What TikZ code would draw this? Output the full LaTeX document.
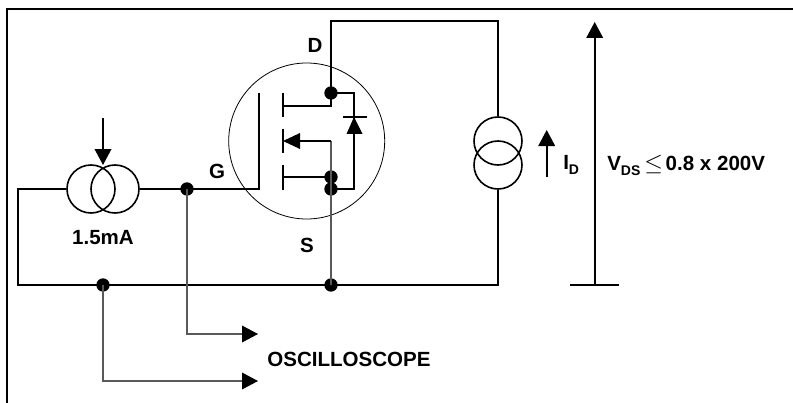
\documentclass[tikz,border=0pt]{standalone}
\usepackage{fontspec}
\setmainfont{Liberation Sans}
\usetikzlibrary{arrows.meta}
\tikzset{
  x=0.75pt,y=-0.75pt,
  wire/.style={line width=1.2pt,draw=black},
  thinwire/.style={line width=1pt,draw=black!65},
  frameline/.style={line width=1.5pt,draw=black},
  junction/.style={circle,fill=black,draw=none,inner sep=0pt,minimum size=10pt},
  coil/.style={circle,draw=black,line width=1.2pt,inner sep=0pt,minimum size=36pt},
  lbl/.style={font=\bfseries\fontsize{15.4}{17}\selectfont,inner sep=0pt,text=black},
  bigarrow/.style={-{Triangle[length=12pt,width=12.5pt,color=black,fill=black]}},
}
\newcommand{\subtxt}[1]{\raisebox{-3.5pt}{\fontsize{10.5}{12}\selectfont #1}}
\begin{document}
\begin{tikzpicture}
\useasboundingbox (0,0) rectangle (793,403);
\coordinate (fa) at (7,403);
\coordinate (fb) at (7,9);
\coordinate (fc) at (793,9);
\draw[frameline] (fa) -- (fb) -- (fc);
% MOSFET envelope
\node[circle,draw=black,line width=0.6pt,inner sep=0pt,minimum size=117pt] (env) at (306.7,141) {};
% junctions
\node[junction] (jd) at (331,93) {};
\node[junction] (js) at (331,177) {};
\node[junction] (jb) at (331,189) {};
\node[junction] (jg) at (187,189) {};
\node[junction] (jl) at (103,285) {};
\node[junction] (jr) at (331,285) {};
% current sources
\node[coil] (c1) at (91,189) {};
\node[coil] (c2) at (115,189) {};
\node[coil] (c3) at (498,141) {};
\node[coil] (c4) at (498,165) {};
% corner points
\coordinate (dt) at (331,21);
\coordinate (dr) at (498,21);
\coordinate (bl) at (18,285);
\coordinate (tl) at (18,189);
\coordinate (br) at (498,285);
\coordinate (gt) at (259,93);
\coordinate (gb) at (259,189);
\coordinate (dch) at (283,106);
\coordinate (dm) at (331,106);
\coordinate (sch) at (283,177);
\coordinate (mch) at (283,141);
\coordinate (mm) at (331,141);
\coordinate (dt1) at (354,93);
\coordinate (db1) at (354,189);
% wires
\draw[wire] (jd.center) -- (dt) -- (dr) -- (c3.north);
\draw[wire] (c4.south) -- (br) -- (bl) -- (tl) -- (c1.west);
\draw[wire] (c2.east) -- (jg.center) -- (gb) -- (gt);
\draw[wire] (dch) -- (dm) -- (jd.center);
\draw[wire] (sch) -- (js.center);
\draw[wire] (jd.center) -- (dt1) -- (db1) -- (jb.center);
% channel
\coordinate (a1) at (283,93); \coordinate (a2) at (283,117);
\coordinate (b1) at (283,129); \coordinate (b2) at (283,153);
\coordinate (e1) at (283,165); \coordinate (e2) at (283,190);
\draw[wire] (a1) -- (a2);
\draw[wire] (b1) -- (b2);
\draw[wire] (e1) -- (e2);
% body with arrow
\draw[thinwire] (jr.center) -- (mm);
\draw[wire] (mm) -- (300,141);
\fill (mch) -- (300,133) -- (300,149) -- cycle;
% diode
\coordinate (dbl) at (343,117); \coordinate (dbr) at (367,117);
\draw[wire] (dbl) -- (dbr);
\fill (354,117) -- (346.5,134) -- (362.5,134) -- cycle;
% scope branches
\coordinate (g1) at (187,334); \coordinate (g2) at (258,334);
\coordinate (l1) at (103,381); \coordinate (l2) at (258,381);
\draw[thinwire,bigarrow] (jg.center) -- (g1) -- (g2);
\draw[thinwire,bigarrow] (jl.center) -- (l1) -- (l2);
% control arrow
\coordinate (ct) at (103,118); \coordinate (ctip) at (103,165);
\draw[wire,bigarrow] (ct) -- (ctip);
% ID arrow
\coordinate (ib) at (546.7,177); \coordinate (it) at (546.7,130);
\draw[wire,bigarrow] (ib) -- (it);
% VDS arrow
\coordinate (vb) at (594.7,285); \coordinate (vt) at (594.7,22);
\coordinate (vl) at (570,285); \coordinate (vr) at (619,285);
\draw[wire,bigarrow] (vb) -- (vt);
\draw[wire] (vl) -- (vr);
% labels
\node[lbl] (ld) at (315,45) {D};
\node[lbl] (lg) at (217,171) {G};
\node[lbl] (ls) at (307,245) {S};
\node[lbl] (lc) at (103,238) {1.5mA};
\node[lbl] (lo) at (349,359) {OSCILLOSCOPE};
\node[lbl,anchor=base west] (li) at (563,170) {I\subtxt{D}};
\node[lbl,anchor=base west] (lv) at (607,171) {V\subtxt{DS}\hspace{3pt}\scalebox{1.25}{$\leq$}\hspace{2pt}0.8 x 200V};
\end{tikzpicture}
\end{document}
